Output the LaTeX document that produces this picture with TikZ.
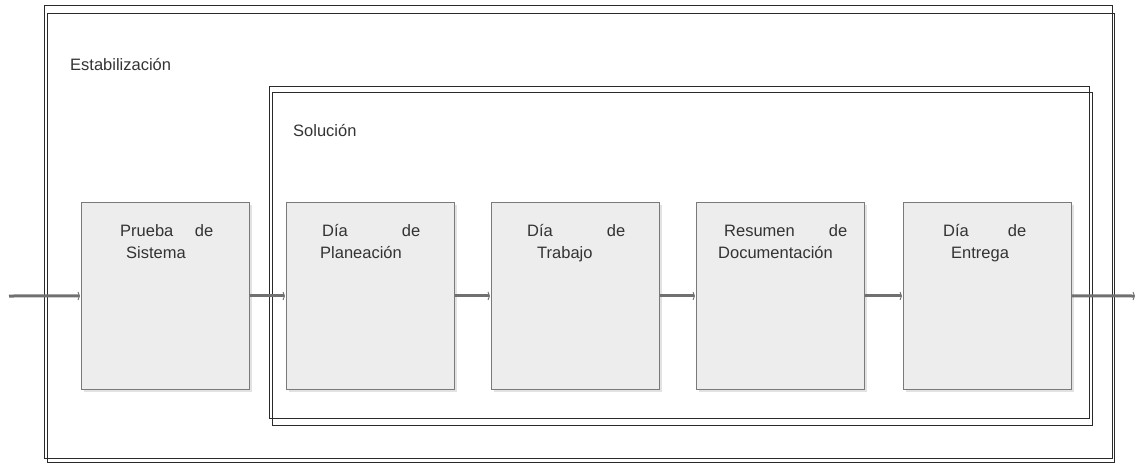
\documentclass[tikz,border=0pt]{standalone}
\usepackage{fontspec}
\setmainfont{Liberation Sans}
\usetikzlibrary{arrows.meta}
\definecolor{boxfill}{HTML}{EDEDED}
\definecolor{boxline}{HTML}{7A7A7A}
\definecolor{shadowc}{HTML}{E2E2E2}
\definecolor{connc}{HTML}{707070}
\definecolor{txtc}{HTML}{333333}
\definecolor{framec}{HTML}{2A2A2A}
\begin{document}
\begin{tikzpicture}[x=1pt,y=-1pt,
  frame/.style={draw=framec, line width=1pt},
  lab/.style={font=\fontsize{16.5}{19}\selectfont, text=txtc, inner sep=0pt, anchor=base west},
  proc/.style={draw=boxline, fill=boxfill, line width=0.9pt, minimum width=168pt, minimum height=187pt, inner sep=0pt, anchor=north west,
    preaction={fill=shadowc, draw=none, transform canvas={shift={(3pt,-3pt)}}}},
  conn/.style={draw=connc, line width=3pt, -{Straight Barb[length=1.5pt,width=8pt,line width=0.9pt]}, shorten >=1pt}]
\useasboundingbox (0,0) rectangle (1138,463);
% frames
\draw[frame] (44,5) rectangle (1112,458);
\draw[frame] (47,13) rectangle (1114,462);
\draw[frame] (269,86) rectangle (1089,418);
\draw[frame] (272,92) rectangle (1092,425);
\node[lab] (estab) at (70,70) {Estabilización};
\node[lab] (sol) at (293,136) {Solución};
% boxes
\node[proc] (b1) at (81,202) {};
\node[proc] (b2) at (286,202) {};
\node[proc] (b3) at (491,202) {};
\node[proc] (b4) at (696,202) {};
\node[proc] (b5) at (903,202) {};
% texts
\node[lab] (t1a) at (120,236) {\makebox[93pt][s]{Prueba\hfill de}};
\node[lab] (t1b) at (126,258) {Sistema};
\node[lab] (t2a) at (322,236) {\makebox[98pt][s]{Día\hfill de}};
\node[lab] (t2b) at (320,258) {Planeación};
\node[lab] (t3a) at (527,236) {\makebox[98pt][s]{Día\hfill de}};
\node[lab] (t3b) at (537,258) {Trabajo};
\node[lab] (t4a) at (724,236) {\makebox[123pt][s]{Resumen\hfill de}};
\node[lab] (t4b) at (718,258) {Documentación};
\node[lab] (t5a) at (943,236) {\makebox[83pt][s]{Día\hfill de}};
\node[lab] (t5b) at (951,258) {Entrega};
% connectors
\coordinate (in) at (9,296);
\coordinate (out) at (1136,296);
\draw[conn] (in) -- (b1.west);
\draw[conn] (b1.east) -- (b2.west);
\draw[conn] (b2.east) -- (b3.west);
\draw[conn] (b3.east) -- (b4.west);
\draw[conn] (b4.east) -- (b5.west);
\draw[conn] (b5.east) -- (out);
\end{tikzpicture}
\end{document}
